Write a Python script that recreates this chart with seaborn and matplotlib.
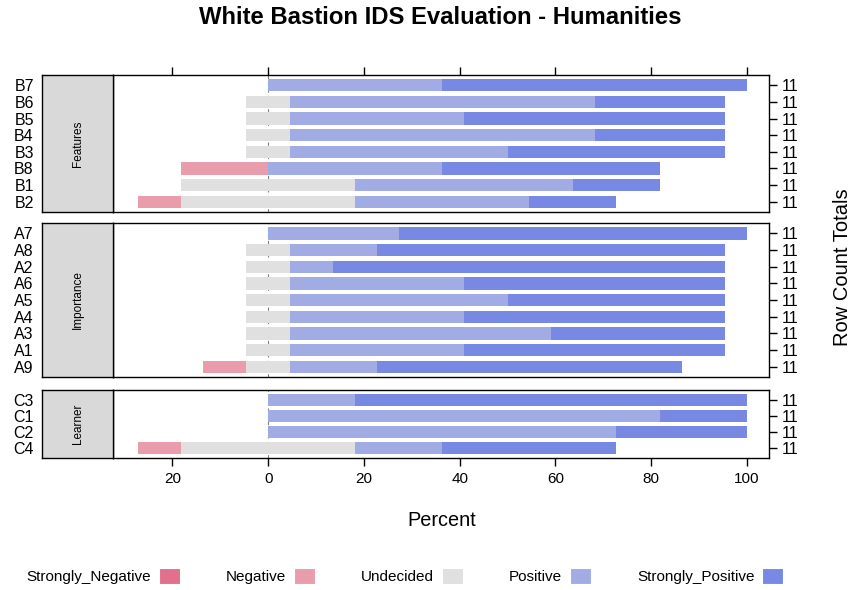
import matplotlib
matplotlib.use("Agg")
import matplotlib.pyplot as plt
from matplotlib.patches import Patch
import seaborn as sns
import pandas as pd

# likert levels and colours
levels = ["Strongly_Negative", "Negative", "Undecided", "Positive", "Strongly_Positive"]
level_colors = ["#E0708C", "#E89CAC", "#E0E0E0", "#A2ACE4", "#7889E4"]

# counts per item (SN, N, U, P, SP), 11 respondents each
features_items = ["B7", "B6", "B5", "B4", "B3", "B8", "B1", "B2"]
features_counts = [
    [0, 0, 0, 4, 7],
    [0, 0, 1, 7, 3],
    [0, 0, 1, 4, 6],
    [0, 0, 1, 7, 3],
    [0, 0, 1, 5, 5],
    [0, 2, 0, 4, 5],
    [0, 0, 4, 5, 2],
    [0, 1, 4, 4, 2],
]
importance_items = ["A7", "A8", "A2", "A6", "A5", "A4", "A3", "A1", "A9"]
importance_counts = [
    [0, 0, 0, 3, 8],
    [0, 0, 1, 2, 8],
    [0, 0, 1, 1, 9],
    [0, 0, 1, 4, 6],
    [0, 0, 1, 5, 5],
    [0, 0, 1, 4, 6],
    [0, 0, 1, 6, 4],
    [0, 0, 1, 4, 6],
    [0, 1, 1, 2, 7],
]
learner_items = ["C3", "C1", "C2", "C4"]
learner_counts = [
    [0, 0, 0, 2, 9],
    [0, 0, 0, 9, 2],
    [0, 0, 0, 8, 3],
    [0, 1, 4, 2, 4],
]

panel_names = ["Features", "Importance", "Learner"]
panel_items = [features_items, importance_items, learner_items]
panel_counts = [features_counts, importance_counts, learner_counts]

x_ticks = [-20, 0, 20, 40, 60, 80, 100]

sns.set_theme(style="white")
plt.rcParams["font.family"] = ["Liberation Sans", "DejaVu Sans"]
plt.rcParams["text.color"] = "black"
plt.rcParams["axes.labelcolor"] = "black"
plt.rcParams["xtick.color"] = "black"
plt.rcParams["ytick.color"] = "black"


def make_table(items, counts):
    """cumulative bar ends (percent) for a diverging stacked bar"""
    df = pd.DataFrame(counts, columns=levels, index=items)
    tot = df.sum(axis=1)
    pct = df.div(tot, axis=0) * 100
    half_u = pct["Undecided"] / 2
    out = pd.DataFrame({"item": items})
    out["total"] = tot.values
    out["sp_end"] = (half_u + pct["Positive"] + pct["Strongly_Positive"]).values
    out["p_end"] = (half_u + pct["Positive"]).values
    out["u_right"] = half_u.values
    out["sn_end"] = (-(half_u + pct["Negative"] + pct["Strongly_Negative"])).values
    out["n_end"] = (-(half_u + pct["Negative"])).values
    out["u_left"] = (-half_u).values
    return out


W, H = 851, 590
fig = plt.figure(figsize=(W / 100, H / 100), dpi=100)

# panel boxes in pixels (top, bottom)
boxes = [(75, 212), (223, 377), (390, 458)]
x_left, x_right, strip_left = 113, 769, 42

draw_order = [("sp_end", 4), ("p_end", 3), ("u_right", 2),
              ("sn_end", 0), ("n_end", 1), ("u_left", 2)]

for i, (name, items, counts) in enumerate(zip(panel_names, panel_items, panel_counts)):
    top, bot = boxes[i]
    rect = [x_left / W, 1 - bot / H, (x_right - x_left) / W, (bot - top) / H]
    ax = fig.add_axes(rect)
    df = make_table(items, counts)

    ax.axvline(0, color="#808080", linestyle=(0, (3, 3)), linewidth=0.8, zorder=0.5)
    for col, k in draw_order:
        sns.barplot(data=df, x=col, y="item", order=items, color=level_colors[k],
                    saturation=1, width=0.74, errorbar=None, linewidth=0, ax=ax)

    n = len(items)
    ax.set_ylim(n - 1 + 0.62, -0.62)
    ax.set_xlim(-32.4, 104.6)
    ax.set_xlabel("")
    ax.set_ylabel("")
    ax.set_xticks(x_ticks)
    ax.set_xticklabels([str(abs(t)) for t in x_ticks])
    ax.tick_params(axis="y", left=False, length=0, pad=57, labelsize=11.5, colors="black")
    if i == 0:
        ax.tick_params(axis="x", top=True, bottom=False, labeltop=False, labelbottom=False,
                       direction="out", length=6, width=1, color="black")
    elif i == len(panel_names) - 1:
        ax.tick_params(axis="x", top=False, bottom=True, labelbottom=True, labeltop=False,
                       direction="out", length=6, width=1, color="black", labelsize=11, pad=4)
    else:
        ax.tick_params(axis="x", top=False, bottom=False, labelbottom=False, labeltop=False)
    for s in ax.spines.values():
        s.set_color("black")
        s.set_linewidth(1)
        s.set_visible(True)

    # row count totals on the right
    ax2 = ax.twinx()
    ax2.set_ylim(ax.get_ylim())
    ax2.set_yticks(range(n))
    ax2.set_yticklabels([str(t) for t in df["total"]])
    ax2.tick_params(axis="y", right=True, direction="out", length=6, width=1,
                    color="black", labelsize=11.5, pad=3)
    for s in ax2.spines.values():
        s.set_visible(False)

    # strip on the left
    sax = fig.add_axes([strip_left / W, 1 - bot / H, (x_left - strip_left) / W, (bot - top) / H])
    sax.set_facecolor("#D9D9D9")
    sax.set_xticks([])
    sax.set_yticks([])
    for s in sax.spines.values():
        s.set_color("black")
        s.set_linewidth(1)
        s.set_visible(True)
    sax.text(0.5, 0.5, name, rotation=90, ha="center", va="center", fontsize=8.5,
             transform=sax.transAxes)

fig.text(440 / W, 1 - 18 / H, "White Bastion IDS Evaluation - Humanities",
         ha="center", va="center", fontsize=17.2, fontweight="bold")
fig.text(442 / W, 1 - 520 / H, "Percent", ha="center", va="center", fontsize=14.3)
fig.text(843 / W, 1 - 267 / H, "Row Count Totals", ha="center", va="center",
         rotation=90, fontsize=14.5)

handles = [Patch(facecolor=c, edgecolor="white", linewidth=0.8, label=l)
           for l, c in zip(levels, level_colors)]
fig.legend(handles=handles, loc="center", bbox_to_anchor=(405 / W, 1 - 576 / H), ncol=5,
           frameon=False, markerfirst=False, fontsize=11, handlelength=1.4,
           handleheight=1.2, handletextpad=0.5, columnspacing=3.0)

fig.savefig("out.png", dpi=100)
